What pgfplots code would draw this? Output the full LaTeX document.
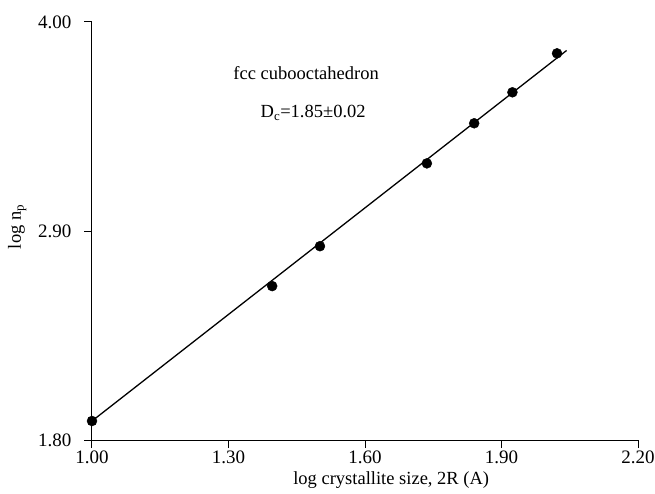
\documentclass[border=0pt]{standalone}
\usepackage{fontspec}
\setmainfont{Liberation Serif}
\usepackage{pgfplots}
\pgfplotsset{compat=1.18}

\begin{document}
\begin{tikzpicture}
\begin{axis}[
  name=ax,
  scale only axis,
  width=546pt, height=418pt,
  xmin=1.0, xmax=2.2, ymin=1.8, ymax=4.0,
  axis lines=left, axis line style={-, line width=1pt},
  xtick={1.0,1.3,1.6,1.9,2.2},
  ytick={1.8,2.9,4.0},
  tick align=outside, major tick length=8pt,
  tick style={line width=1pt, black},
  /pgf/number format/assume math mode=true,
  /pgf/number format/.cd, fixed, fixed zerofill, precision=2, /pgfplots/.cd,
  tick label style={font=\fontsize{19}{22}\selectfont},
  xticklabel style={yshift=1pt},
  yticklabel style={xshift=-9pt},
  label style={font=\fontsize{18.5}{21}\selectfont},
  xlabel={log crystallite size, 2R (A)},
  ylabel={log n\textsubscript{p}},
  xlabel style={at={(axis description cs:0.548,-0.096)}, anchor=center},
  ylabel style={at={(axis description cs:-0.137,0.51)}, anchor=center},
  clip=false,
]
% fitted line
\addplot[black, line width=1.3pt] coordinates {(1.0,1.90) (2.043,3.85)};
% data points
\addplot[only marks, mark=*, mark size=5pt, black] coordinates {
  (1.000,1.90) (1.396,2.61) (1.501,2.82) (1.736,3.256)
  (1.840,3.467) (1.924,3.630) (2.022,3.835)
};
\node[anchor=base west, font=\fontsize{18.5}{21}\selectfont] at (axis cs:1.303,3.695) {fcc cubooctahedron};
\node[anchor=base west, font=\fontsize{18.5}{21}\selectfont] at (axis cs:1.363,3.495) {D\textsubscript{c}=1.85±0.02};
\end{axis}
\pgfresetboundingbox
\path[use as bounding box] ([shift={(-92pt,-53pt)}]ax.south west) rectangle ([shift={(17pt,22pt)}]ax.north east);
\end{tikzpicture}
\end{document}
